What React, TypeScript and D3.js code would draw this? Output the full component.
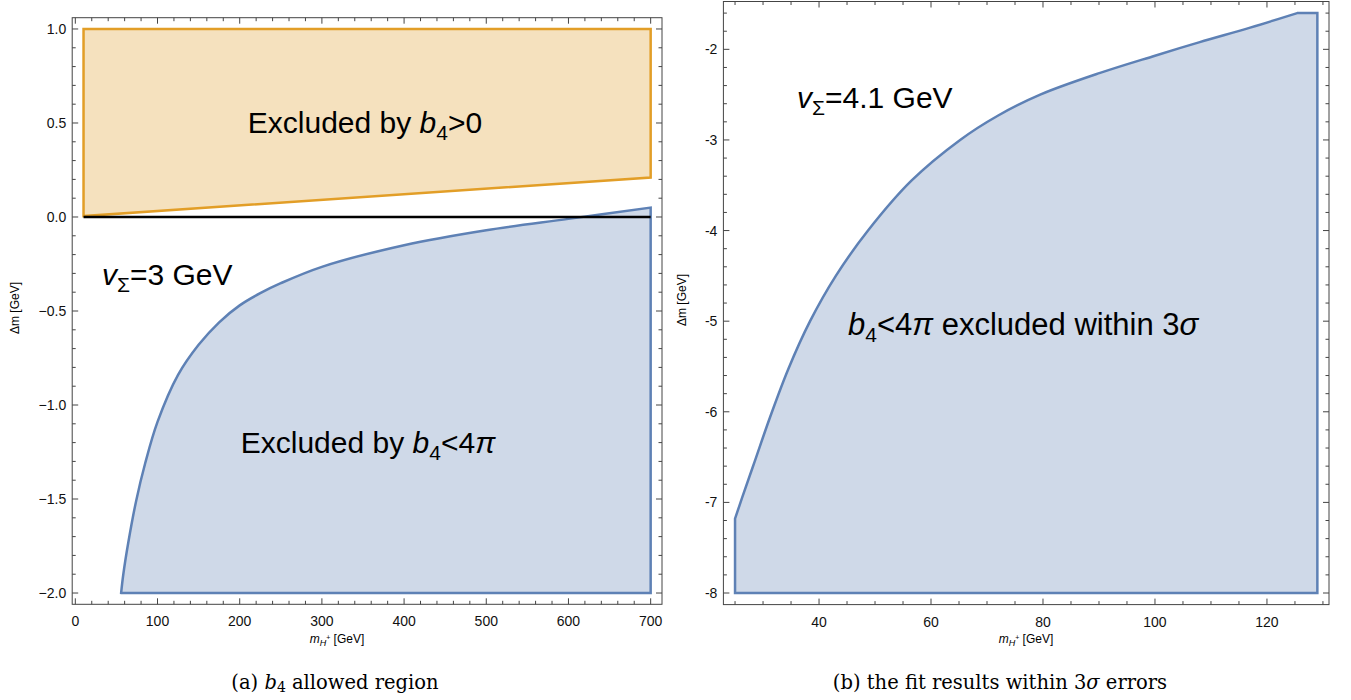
import React from "react";
import * as d3 from "d3";

// ---------- data ----------
// Panel (a): b4 allowed region
const orangeTopY = 1.0;
const orangeX = [10, 700];
const orangeLowerY = [0.005, 0.21];
const blueAX = [55.7, 58.4, 64.5, 74, 85, 100, 125, 150, 175, 200, 225, 250, 300, 400, 500, 600, 700];
const blueAY = [-2.0, -1.9, -1.73, -1.51, -1.31, -1.09, -0.84, -0.68, -0.56, -0.47, -0.405, -0.352, -0.265, -0.15, -0.07, -0.01, 0.05];
const blueABottom = -2.0;
const zeroLineX = [10, 700];

// Panel (b): fit results within 3 sigma
const blueBX = [25, 26.25, 28.5, 31.25, 34.5, 38.4, 43, 48.75, 56.5, 65.2, 72, 79.5, 90.2, 100, 108, 117, 125.4];
const blueBY = [-7.18, -6.95, -6.55, -6.06, -5.53, -5.0, -4.5, -4.0, -3.45, -3.0, -2.73, -2.5, -2.26, -2.07, -1.92, -1.76, -1.6];
const blueBTopRightX = 129;
const blueBBottom = -8.0;

// ticks
const aXTicks = [0, 100, 200, 300, 400, 500, 600, 700];
const aYTicks = [1.0, 0.5, 0.0, -0.5, -1.0, -1.5, -2.0];
const bXTicks = [40, 60, 80, 100, 120];
const bYTicks = [-2, -3, -4, -5, -6, -7, -8];

const BLUE = "#5E81B5";
const BLUE_FILL = "#CFD9E8";
const ORANGE = "#E29E27";
const ORANGE_FILL = "#F5E1BE";
const FRAME = "#444";
const SANS = "'Liberation Sans', Arial, Helvetica, sans-serif";
const SERIF = "'DejaVu Serif', 'Liberation Serif', serif";

type Sc = d3.ScaleLinear<number, number>;

function Frame({ x, y, majorX, minorX, majorY, minorY, fmtX, fmtY }: {
  x: Sc; y: Sc; majorX: number[]; minorX: number[]; majorY: number[]; minorY: number[];
  fmtX: (v: number) => string; fmtY: (v: number) => string;
}) {
  const [x0, x1] = x.range();
  const [y0, y1] = y.range(); // y0 bottom, y1 top
  const maj = 6, min = 3.5;
  const els: React.ReactNode[] = [];
  minorX.forEach((v, i) => {
    const px = x(v);
    els.push(<line key={"mxb" + i} x1={px} x2={px} y1={y0} y2={y0 - min} />);
    els.push(<line key={"mxt" + i} x1={px} x2={px} y1={y1} y2={y1 + min} />);
  });
  majorX.forEach((v, i) => {
    const px = x(v);
    els.push(<line key={"Mxb" + i} x1={px} x2={px} y1={y0} y2={y0 - maj} />);
    els.push(<line key={"Mxt" + i} x1={px} x2={px} y1={y1} y2={y1 + maj} />);
  });
  minorY.forEach((v, i) => {
    const py = y(v);
    els.push(<line key={"myl" + i} x1={x0} x2={x0 + min} y1={py} y2={py} />);
    els.push(<line key={"myr" + i} x1={x1} x2={x1 - min} y1={py} y2={py} />);
  });
  majorY.forEach((v, i) => {
    const py = y(v);
    els.push(<line key={"Myl" + i} x1={x0} x2={x0 + maj} y1={py} y2={py} />);
    els.push(<line key={"Myr" + i} x1={x1} x2={x1 - maj} y1={py} y2={py} />);
  });
  return (
    <g>
      <g stroke={FRAME} strokeWidth={1}>{els}</g>
      <rect x={x0} y={y1} width={x1 - x0} height={y0 - y1} fill="none" stroke={FRAME} strokeWidth={1} />
      <g fontFamily={SANS} fontSize={14} fill="#111">
        {majorX.map((v, i) => (
          <text key={"lx" + i} x={x(v)} y={y0 + 22} textAnchor="middle">{fmtX(v)}</text>
        ))}
        {majorY.map((v, i) => (
          <text key={"ly" + i} x={x0 - 6} y={y(v) + 5} textAnchor="end">{fmtY(v)}</text>
        ))}
      </g>
    </g>
  );
}

export default function App() {
  // Panel (a) scales
  const xa = d3.scaleLinear().domain([-3.8, 713.8]).range([72.2, 662]);
  const ya = d3.scaleLinear().domain([-2.06, 1.06]).range([604.3, 17.7]);
  // Panel (b) scales
  const xb = d3.scaleLinear().domain([22.92, 131.08]).range([723.4, 1329]);
  const yb = d3.scaleLinear().domain([-8.128, -1.472]).range([604.6, 1.5]);

  const line = d3.line<[number, number]>().curve(d3.curveCatmullRom.alpha(0.5));

  // orange polygon
  const orangePts: [number, number][] = [
    [xa(orangeX[0]), ya(orangeLowerY[0])],
    [xa(orangeX[0]), ya(orangeTopY)],
    [xa(orangeX[1]), ya(orangeTopY)],
    [xa(orangeX[1]), ya(orangeLowerY[1])],
  ];
  const orangePath = "M" + orangePts.map((p) => p.join(",")).join("L") + "Z";

  // blue (a)
  const curveA = line(blueAX.map((v, i) => [xa(v), ya(blueAY[i])] as [number, number])) || "";
  const blueAPath = curveA + `L${xa(blueAX[blueAX.length - 1])},${ya(blueABottom)}L${xa(blueAX[0])},${ya(blueABottom)}Z`;

  // blue (b)
  const curveB = line(blueBX.map((v, i) => [xb(v), yb(blueBY[i])] as [number, number])) || "";
  const lastY = blueBY[blueBY.length - 1];
  const blueBPath = `M${xb(blueBX[0])},${yb(blueBBottom)}L` + curveB.slice(1) +
    `L${xb(blueBTopRightX)},${yb(lastY)}L${xb(blueBTopRightX)},${yb(blueBBottom)}Z`;

  const minorAX = d3.range(0, 701, 20).filter((v) => v % 100 !== 0);
  const minorAY = d3.range(-20, 11, 1).map((v) => v / 10).filter((v) => Math.abs(v * 2 - Math.round(v * 2)) > 1e-6);
  const minorBX = d3.range(25, 131, 5).filter((v) => v % 20 !== 0);
  const minorBY = d3.range(-40, -6, 1).map((v) => v / 5).filter((v) => Math.abs(v - Math.round(v)) > 1e-6);

  const fmtA = (v: number) => (v < 0 ? "\u2212" + Math.abs(v).toFixed(1) : v.toFixed(1));

  const FS = 30, SUB = 21, DY = 7;

  return (
    <svg width={1351} height={700} style={{ position: "absolute", left: 0, top: 0, background: "#fff" }}>
      {/* ---------- panel (a) ---------- */}
      <path d={orangePath} fill={ORANGE_FILL} stroke={ORANGE} strokeWidth={2.5} strokeLinejoin="miter" />
      <path d={blueAPath} fill={BLUE_FILL} stroke={BLUE} strokeWidth={2.5} strokeLinejoin="miter" />
      <line x1={xa(zeroLineX[0])} x2={xa(zeroLineX[1])} y1={ya(0)} y2={ya(0)} stroke="#000" strokeWidth={2.5} />
      <Frame x={xa} y={ya} majorX={aXTicks} minorX={minorAX} majorY={aYTicks} minorY={minorAY}
        fmtX={(v) => String(v)} fmtY={fmtA} />
      <g fontFamily={SANS} fontSize={FS} fill="#000">
        <text x={365} y={133} textAnchor="middle">
          Excluded by <tspan fontStyle="italic">b</tspan><tspan fontSize={SUB} dy={DY}>4</tspan><tspan dy={-DY}>&gt;0</tspan>
        </text>
        <text x={102} y={285}>
          <tspan fontStyle="italic">v</tspan><tspan fontSize={SUB} dy={DY}>Σ</tspan><tspan dy={-DY}>=3 GeV</tspan>
        </text>
        <text x={368} y={453} textAnchor="middle">
          Excluded by <tspan fontStyle="italic">b</tspan><tspan fontSize={SUB} dy={DY}>4</tspan><tspan dy={-DY}>&lt;4</tspan><tspan fontStyle="italic">π</tspan>
        </text>
      </g>
      <text x={19} y={308} transform="rotate(-90 19 308)" textAnchor="middle" fontFamily={SANS} fontSize={12}>Δm [GeV]</text>
      <text x={337} y={643} textAnchor="middle" fontFamily={SANS} fontSize={12}>
        <tspan fontStyle="italic">m</tspan><tspan fontStyle="italic" fontSize={9} dy={3}>H</tspan><tspan fontSize={7} dy={-6}>+</tspan><tspan dy={3}> [GeV]</tspan>
      </text>
      <text x={335} y={689} textAnchor="middle" fontFamily={SERIF} fontSize={19.5}>
        (a) <tspan fontStyle="italic">b</tspan><tspan fontSize={14} dy={3}>4</tspan><tspan dy={-3}> allowed region</tspan>
      </text>

      {/* ---------- panel (b) ---------- */}
      <path d={blueBPath} fill={BLUE_FILL} stroke={BLUE} strokeWidth={2.5} strokeLinejoin="miter" />
      <Frame x={xb} y={yb} majorX={bXTicks} minorX={minorBX} majorY={bYTicks} minorY={minorBY}
        fmtX={(v) => String(v)} fmtY={(v) => String(v)} />
      <g fontFamily={SANS} fontSize={FS} fill="#000">
        <text x={797} y={108}>
          <tspan fontStyle="italic">v</tspan><tspan fontSize={SUB} dy={DY}>Σ</tspan><tspan dy={-DY}>=4.1 GeV</tspan>
        </text>
        <text x={848} y={335} fontSize={31}>
          <tspan fontStyle="italic">b</tspan><tspan fontSize={SUB} dy={DY}>4</tspan><tspan dy={-DY}>&lt;4</tspan><tspan fontStyle="italic">π</tspan> excluded within 3<tspan fontStyle="italic">σ</tspan>
        </text>
      </g>
      <text x={686} y={300} transform="rotate(-90 686 300)" textAnchor="middle" fontFamily={SANS} fontSize={12}>Δm [GeV]</text>
      <text x={1026} y={643} textAnchor="middle" fontFamily={SANS} fontSize={12}>
        <tspan fontStyle="italic">m</tspan><tspan fontStyle="italic" fontSize={9} dy={3}>H</tspan><tspan fontSize={7} dy={-6}>+</tspan><tspan dy={3}> [GeV]</tspan>
      </text>
      <text x={1000} y={689} textAnchor="middle" fontFamily={SERIF} fontSize={19.5}>
        (b) the fit results within 3<tspan fontStyle="italic">σ</tspan> errors
      </text>
    </svg>
  );
}
